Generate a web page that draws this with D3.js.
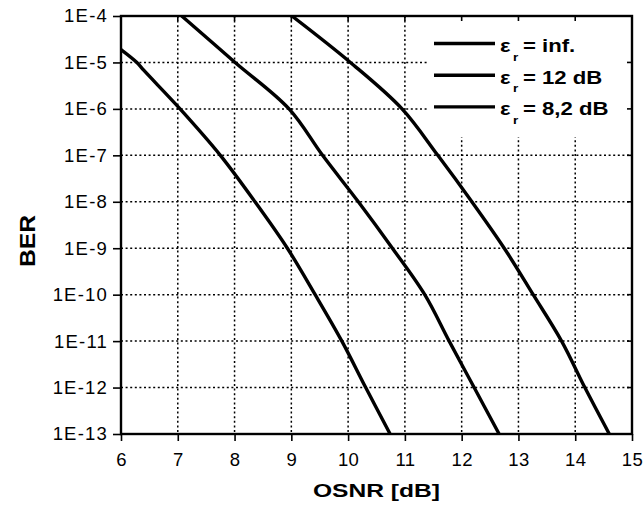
<!DOCTYPE html>
<html>
<head>
<meta charset="utf-8">
<script src="https://cdn.jsdelivr.net/npm/d3@7"></script>
<style>
  body { margin: 0; background: #fff; }
  text { font-family: "Liberation Sans", Arial, sans-serif; fill: #000; }
</style>
</head>
<body>
<script>
// curves (OSNR in dB, BER)
var osnrInf = [6, 6.28, 6.4, 7.04, 7.75, 8.36, 8.93, 9.42, 9.89, 10.31, 10.74];
var berInf  = [1.9e-5, 1e-5, 6.8e-6, 1e-6, 1e-7, 1e-8, 1e-9, 1e-10, 1e-11, 1e-12, 1e-13];

var osnr12 = [7.07, 8.01, 8.96, 9.55, 10.18, 10.78, 11.35, 11.78, 12.22, 12.66];
var ber12  = [1e-4, 1e-5, 1e-6, 1e-7, 1e-8, 1e-9, 1e-10, 1e-11, 1e-12, 1e-13];

var osnr82 = [9.01, 10.04, 10.95, 11.58, 12.18, 12.75, 13.26, 13.76, 14.17, 14.6];
var ber82  = [1e-4, 1e-5, 1e-6, 1e-7, 1e-8, 1e-9, 1e-10, 1e-11, 1e-12, 1e-13];

var seriesNames = ["inf.", "12 dB", "8,2 dB"];
var xTicks = [6, 7, 8, 9, 10, 11, 12, 13, 14, 15];
var yTicks = [1e-4, 1e-5, 1e-6, 1e-7, 1e-8, 1e-9, 1e-10, 1e-11, 1e-12, 1e-13];

var width = 644, height = 514;
var pLeft = 121, pRight = 632, pTop = 16, pBottom = 434;

var svg = d3.select("body").append("svg")
    .attr("width", width)
    .attr("height", height);

var x = d3.scaleLinear().domain([6, 15]).range([pLeft, pRight]);
var y = d3.scaleLog().domain([1e-13, 1e-4]).range([pBottom, pTop]);

// grid
var grid = svg.append("g")
    .attr("stroke", "#000")
    .attr("stroke-width", 1.5)
    .attr("stroke-dasharray", "2,2.6");

grid.selectAll(".vgrid")
  .data(xTicks.slice(1, -1))
  .enter().append("line")
    .attr("class", "vgrid")
    .attr("x1", function(d){ return x(d); })
    .attr("x2", function(d){ return x(d); })
    .attr("y1", pTop)
    .attr("y2", pBottom);

grid.selectAll(".hgrid")
  .data(yTicks.slice(1, -1))
  .enter().append("line")
    .attr("class", "hgrid")
    .attr("x1", pLeft)
    .attr("x2", pRight)
    .attr("y1", function(d){ return y(d); })
    .attr("y2", function(d){ return y(d); });

// legend background hides the grid behind it
svg.append("rect")
    .attr("x", 428)
    .attr("y", pTop)
    .attr("width", pRight - 428)
    .attr("height", 137 - pTop)
    .attr("fill", "#fff");

// curves
var line = d3.line()
    .x(function(d){ return x(d[0]); })
    .y(function(d){ return y(d[1]); })
    .curve(d3.curveCatmullRom.alpha(0.5));

var series = [
  d3.zip(osnrInf, berInf),
  d3.zip(osnr12, ber12),
  d3.zip(osnr82, ber82)
];

svg.append("defs").append("clipPath").attr("id", "clip")
  .append("rect")
    .attr("x", pLeft).attr("y", pTop)
    .attr("width", pRight - pLeft).attr("height", pBottom - pTop);

svg.append("g").attr("clip-path", "url(#clip)")
  .selectAll(".curve")
  .data(series)
  .enter().append("path")
    .attr("class", "curve")
    .attr("fill", "none")
    .attr("stroke", "#000")
    .attr("stroke-width", 3.4)
    .attr("stroke-linejoin", "round")
    .attr("d", line);

// axes
var xAxis = svg.append("g")
    .attr("transform", "translate(0," + pBottom + ")")
    .call(d3.axisBottom(x).tickValues(xTicks).tickSize(7).tickPadding(12).tickFormat(d3.format("d")));

var yAxis = svg.append("g")
    .attr("transform", "translate(" + pLeft + ",0)")
    .call(d3.axisLeft(y).tickValues(yTicks).tickSize(8).tickPadding(5)
      .tickFormat(function(d){ return "1E" + Math.round(Math.log10(d)); }));

[xAxis, yAxis].forEach(function(a){
  a.select(".domain").remove();
  a.selectAll(".tick line").attr("stroke", "#000").attr("stroke-width", 1.6);
  a.selectAll(".tick text")
    .attr("font-size", 18.5)
    .attr("font-family", "Liberation Sans, Arial, sans-serif");
});
xAxis.selectAll(".tick text").attr("letter-spacing", 0.4);
yAxis.selectAll(".tick text").attr("letter-spacing", 1.2);

// inner ticks on top and right
svg.append("g").selectAll("line")
  .data(xTicks.slice(1, -1))
  .enter().append("line")
    .attr("x1", function(d){ return x(d); })
    .attr("x2", function(d){ return x(d); })
    .attr("y1", pTop).attr("y2", pTop + 5)
    .attr("stroke", "#000").attr("stroke-width", 1.6);

svg.append("g").selectAll("line")
  .data(yTicks.slice(1, -1))
  .enter().append("line")
    .attr("x1", pRight - 5).attr("x2", pRight)
    .attr("y1", function(d){ return y(d); })
    .attr("y2", function(d){ return y(d); })
    .attr("stroke", "#000").attr("stroke-width", 1.6);

// frame
svg.append("rect")
    .attr("x", pLeft).attr("y", pTop)
    .attr("width", pRight - pLeft).attr("height", pBottom - pTop)
    .attr("fill", "none")
    .attr("stroke", "#000")
    .attr("stroke-width", 2.4);

// axis titles
svg.append("text")
    .attr("x", 376.5)
    .attr("y", 497)
    .attr("text-anchor", "middle")
    .attr("font-size", 19)
    .attr("font-weight", "bold")
    .attr("textLength", 127)
    .attr("lengthAdjust", "spacingAndGlyphs")
    .text("OSNR [dB]");

svg.append("text")
    .attr("transform", "translate(35,241) rotate(-90)")
    .attr("text-anchor", "middle")
    .attr("font-size", 22)
    .attr("font-weight", "bold")
    .attr("textLength", 52)
    .attr("lengthAdjust", "spacingAndGlyphs")
    .text("BER");

// legend
var legend = svg.append("g").selectAll(".leg")
  .data(seriesNames)
  .enter().append("g")
    .attr("class", "leg")
    .attr("transform", function(d, i){ return "translate(0," + (43.5 + i * 31.7) + ")"; });

legend.append("line")
    .attr("x1", 434).attr("x2", 495)
    .attr("y1", 0).attr("y2", 0)
    .attr("stroke", "#000")
    .attr("stroke-width", 3.4);

var lt = legend.append("g")
    .attr("transform", "translate(500,8.5) scale(1.23,1)")
  .append("text")
    .attr("font-size", 18)
    .attr("font-weight", "bold");
lt.append("tspan").attr("x", 0).attr("y", 0).text("ε");
lt.append("tspan").attr("x", 10.6).attr("y", 8.5).attr("font-size", 11).text("r");
lt.append("tspan").attr("x", 18.7).attr("y", 0).text(function(d){ return "= " + d; });
</script>
</body>
</html>
